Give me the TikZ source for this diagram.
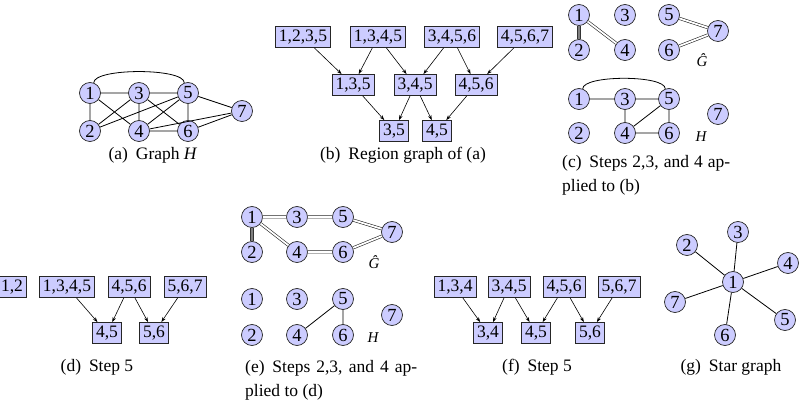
\documentclass[tikz,border=0pt]{standalone}
\usepackage{fontspec}
\setmainfont{Liberation Serif}
\usetikzlibrary{arrows.meta}
\definecolor{nfill}{RGB}{204,204,255}
\begin{document}
\begin{tikzpicture}[x=1pt,y=-1pt,
 vtx/.style={circle,draw=black!85,fill=nfill,line width=0.7pt,minimum size=21pt,inner sep=0pt,font=\fontsize{18.5}{18.5}\selectfont},
 rbox/.style={rectangle,draw=black!85,fill=nfill,line width=0.8pt,minimum height=21pt,inner xsep=3.5pt,inner ysep=0pt,text height=12pt,text depth=3.5pt,font=\fontsize{17.5}{18}\selectfont},
 edge/.style={line width=0.8pt},
 dbl/.style={draw=black!85,line width=0.6pt,double=white,double distance=1.8pt},
 gdbl/.style={draw=black!80,line width=0.6pt,double=gray,double distance=2pt},
 arr/.style={-{Stealth[length=5pt,width=3.5pt]},line width=0.6pt},
 captext/.style={font=\fontsize{17.5}{24}\selectfont,inner sep=0pt},
 glab/.style={font=\fontsize{15}{15}\selectfont\itshape,inner sep=0pt}]
\useasboundingbox (0,0) rectangle (804,406);

% ---------- (a)
\node[vtx] (a1) at (90,93) {1};
\node[vtx] (a3) at (139,93) {3};
\node[vtx] (a5) at (188,93) {5};
\node[vtx] (a2) at (90,131) {2};
\node[vtx] (a4) at (139,131) {4};
\node[vtx] (a6) at (188,131) {6};
\node[vtx] (a7) at (242,111) {7};
\draw[edge] (a1)--(a3) (a3)--(a5) (a1)--(a2) (a1)--(a4) (a2)--(a3) (a2)--(a5)
 (a3)--(a4) (a3)--(a6) (a4)--(a5) (a4)--(a6) (a5)--(a6) (a5)--(a7) (a4)--(a7) (a6)--(a7);
\draw[edge] (a1.70) .. controls +(0,-15) and +(0,-15) .. (a5.110);
\node[captext] (capa) at (153,155) {(a)\hspace{0.45em}Graph \textit{H}};

% ---------- (b)
\node[rbox] (b1) at (303,37) {1,2,3,5};
\node[rbox] (b2) at (378,37) {1,3,4,5};
\node[rbox] (b3) at (452,37) {3,4,5,6};
\node[rbox] (b4) at (525,37) {4,5,6,7};
\node[rbox] (b5) at (353,85) {1,3,5};
\node[rbox] (b6) at (415,85) {3,4,5};
\node[rbox] (b7) at (476,85) {4,5,6};
\node[rbox] (b8) at (394,131) {3,5};
\node[rbox] (b9) at (437,131) {4,5};
\draw[arr] (b1)--(b5);
\draw[arr] (b2)--(b5);
\draw[arr] (b2)--(b6);
\draw[arr] (b3)--(b6);
\draw[arr] (b3)--(b7);
\draw[arr] (b4)--(b7);
\draw[arr] (b5)--(b8);
\draw[arr] (b6)--(b8);
\draw[arr] (b6)--(b9);
\draw[arr] (b7)--(b9);
\node[captext] (capb) at (403,155) {(b)\hspace{0.45em}Region graph of (a)};

% ---------- (c)
\node[vtx] (c1) at (579,15) {1};
\node[vtx] (c3) at (625,15) {3};
\node[vtx] (c5) at (669,15) {5};
\node[vtx] (c7) at (718,31) {7};
\node[vtx] (c2) at (579,50) {2};
\node[vtx] (c4) at (625,50) {4};
\node[vtx] (c6) at (669,50) {6};
\draw[gdbl] (c1)--(c2);
\draw[dbl] (c1)--(c4) (c5)--(c7) (c6)--(c7);
\node[glab] (gc) at (702,60) {Ĝ};
\node[vtx] (h1) at (579,99) {1};
\node[vtx] (h3) at (625,99) {3};
\node[vtx] (h5) at (669,99) {5};
\node[vtx] (h7) at (718,114) {7};
\node[vtx] (h2) at (579,133) {2};
\node[vtx] (h4) at (625,133) {4};
\node[vtx] (h6) at (669,133) {6};
\draw[edge] (h1)--(h3) (h3)--(h5) (h3)--(h4) (h4)--(h5) (h4)--(h6) (h5)--(h6);
\draw[edge] (h1.70) .. controls +(0,-14) and +(0,-14) .. (h5.110);
\node[glab] (hc) at (701,137) {H};
\node[captext,anchor=west] (capc1) at (562,163) {\makebox[168pt][s]{(c)\hspace{0.45em}Steps 2,3, and 4 ap-}};
\node[captext,anchor=west] (capc2) at (562,187) {plied to (b)};

% ---------- (d)
\node[rbox] (d1) at (12,287) {1,2};
\node[rbox] (d2) at (67,287) {1,3,4,5};
\node[rbox] (d3) at (129,287) {4,5,6};
\node[rbox] (d4) at (185,287) {5,6,7};
\node[rbox] (d5) at (107,333) {4,5};
\node[rbox] (d6) at (154,333) {5,6};
\draw[arr] (d2)--(d5);
\draw[arr] (d3)--(d5);
\draw[arr] (d3)--(d6);
\draw[arr] (d4)--(d6);
\node[captext] (capd) at (97,367) {(d)\hspace{0.45em}Step 5};

% ---------- (e)
\node[vtx] (e1) at (252,217) {1};
\node[vtx] (e3) at (297,217) {3};
\node[vtx] (e5) at (343,217) {5};
\node[vtx] (e7) at (392,232) {7};
\node[vtx] (e2) at (252,252) {2};
\node[vtx] (e4) at (297,252) {4};
\node[vtx] (e6) at (343,252) {6};
\draw[gdbl] (e1)--(e2);
\draw[dbl] (e1)--(e3) (e3)--(e5) (e5)--(e7) (e1)--(e4) (e4)--(e6) (e6)--(e7);
\node[glab] (ge) at (374,262) {Ĝ};
\node[vtx] (k1) at (252,299) {1};
\node[vtx] (k3) at (297,299) {3};
\node[vtx] (k5) at (343,299) {5};
\node[vtx] (k7) at (392,315) {7};
\node[vtx] (k2) at (252,335) {2};
\node[vtx] (k4) at (297,335) {4};
\node[vtx] (k6) at (343,335) {6};
\draw[edge] (k4)--(k5) (k5)--(k6);
\node[glab] (he) at (373,338) {H};
\node[captext,anchor=west] (cape1) at (245,368) {\makebox[172pt][s]{(e)\hspace{0.45em}Steps 2,3, and 4 ap-}};
\node[captext,anchor=west] (cape2) at (245,392) {plied to (d)};

% ---------- (f)
\node[rbox] (f1) at (455,287) {1,3,4};
\node[rbox] (f2) at (509,287) {3,4,5};
\node[rbox] (f3) at (564,287) {4,5,6};
\node[rbox] (f4) at (619,287) {5,6,7};
\node[rbox] (f5) at (488,333) {3,4};
\node[rbox] (f6) at (536,333) {4,5};
\node[rbox] (f7) at (590,333) {5,6};
\draw[arr] (f1)--(f5);
\draw[arr] (f2)--(f5);
\draw[arr] (f2)--(f6);
\draw[arr] (f3)--(f6);
\draw[arr] (f3)--(f7);
\draw[arr] (f4)--(f7);
\node[captext] (capf) at (537,367) {(f)\hspace{0.45em}Step 5};

% ---------- (g)
\node[vtx] (g1) at (733,282) {1};
\node[vtx] (g3) at (738,232) {3};
\node[vtx] (g2) at (687,245) {2};
\node[vtx] (g4) at (788,263) {4};
\node[vtx] (g7) at (675,302) {7};
\node[vtx] (g5) at (785,320) {5};
\node[vtx] (g6) at (725,335) {6};
\draw[edge] (g1)--(g2) (g1)--(g3) (g1)--(g4) (g1)--(g5) (g1)--(g6) (g1)--(g7);
\node[captext] (capg) at (731,367) {(g)\hspace{0.45em}Star graph};
\end{tikzpicture}
\end{document}
